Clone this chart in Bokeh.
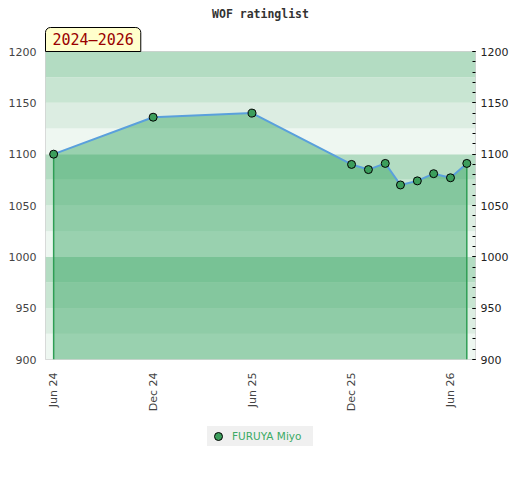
from datetime import datetime
from math import pi
from bokeh.plotting import figure
from bokeh.layouts import column
from bokeh.models import (BoxAnnotation, LinearAxis, FixedTicker, Range1d, Title,
                          Legend, LegendItem)
from bokeh.embed import file_html
from bokeh.resources import INLINE

# ---- data ----
dates = [datetime(2024, 6, 1), datetime(2024, 12, 1), datetime(2025, 6, 1),
         datetime(2025, 12, 1), datetime(2026, 1, 1), datetime(2026, 2, 1),
         datetime(2026, 3, 1), datetime(2026, 4, 1), datetime(2026, 5, 1),
         datetime(2026, 6, 1), datetime(2026, 7, 1)]
ratings = [1100, 1136, 1140, 1090, 1085, 1091, 1070, 1074, 1081, 1077, 1091]
player = "FURUYA Miyo"
title = "WOF ratinglist"
period = "2024\u20132026"
tick_dates = [datetime(2024, 6, 1), datetime(2024, 12, 1), datetime(2025, 6, 1),
              datetime(2025, 12, 1), datetime(2026, 6, 1)]
tick_labels = ["Jun 24", "Dec 24", "Jun 25", "Dec 25", "Jun 26"]
y_min, y_max = 900, 1200
y_major = list(range(900, 1201, 50))
y_minor = list(range(900, 1201, 10))
band_edges = list(range(900, 1201, 25))
band_colors = ["#eef7f1", "#dcede2", "#c8e5d2", "#b3dcc2"]

x_start = datetime(2024, 5, 17)
x_end = datetime(2026, 7, 17)

xs = [d.timestamp() * 1000 for d in dates]
tick_x = [d.timestamp() * 1000 for d in tick_dates]

p = figure(width=512, height=415, output_backend="svg", toolbar_location=None,
           x_range=Range1d(x_start.timestamp() * 1000, x_end.timestamp() * 1000),
           y_range=Range1d(y_min, y_max),
           min_border_left=45, min_border_right=37, min_border_top=50, min_border_bottom=56)
p.background_fill_color = "white"
p.border_fill_color = "white"
p.outline_line_color = "#d0d0d0"
p.outline_line_width = 1
p.grid.visible = False

p.title.text = title
p.title.align = "center"
p.title.text_font = "DejaVu Sans Mono"
p.title.text_font_style = "bold"
p.title.text_font_size = "11.5px"
p.title.text_color = "#333333"
p.title.standoff = 9

# period tag just above the frame
tag = Title(text=period, align="left", text_font="DejaVu Sans Mono", text_font_size="15px",
            text_font_style="normal", text_color="#990000",
            background_fill_color="#ffffcc", border_line_color="black",
            border_line_width=1, padding=(7, 3), border_radius=(5, 5, 0, 0), standoff=0)
p.add_layout(tag, "above")

# bands
for i in range(len(band_edges) - 1):
    p.add_layout(BoxAnnotation(bottom=band_edges[i], top=band_edges[i + 1],
                               fill_color=band_colors[i % 4], fill_alpha=1.0,
                               line_alpha=0, level="underlay"))

# area
p.varea(x=xs, y1=[y_min] * len(xs), y2=ratings, fill_color="#2da15a", fill_alpha=0.44)
p.segment(x0=[xs[0], xs[-1]], y0=[y_min, y_min], x1=[xs[0], xs[-1]],
          y1=[ratings[0], ratings[-1]], line_color="#2f9e55", line_width=1.5)
p.line(xs, ratings, line_color="#5aa0dc", line_width=2)
p.scatter(xs, ratings, size=8, fill_color="#3c9e5c", line_color="black", line_width=1)

# axes
xa = p.xaxis[0]
xa.ticker = FixedTicker(ticks=tick_x)
xa.major_label_overrides = {t: l for t, l in zip(tick_x, tick_labels)}
xa.major_label_orientation = pi / 2
xa.major_tick_out = 0
xa.major_tick_in = 0
xa.minor_tick_out = 0
xa.axis_line_color = None
xa.major_label_standoff = 13
xa.major_label_text_font = "DejaVu Sans"
xa.major_label_text_font_size = "11px"
xa.major_label_text_color = "#444444"

ya = p.yaxis[0]
ya.ticker = FixedTicker(ticks=y_major)
ya.major_tick_out = 0
ya.major_tick_in = 0
ya.minor_tick_out = 0
ya.axis_line_color = None
ya.major_label_standoff = 9
ya.major_label_text_font = "DejaVu Sans"
ya.major_label_text_font_size = "11px"
ya.major_label_text_color = "#444444"

ra = LinearAxis(ticker=FixedTicker(ticks=y_major, minor_ticks=y_minor))
ra.major_tick_out = 0
ra.major_tick_in = 3
ra.minor_tick_out = 0
ra.minor_tick_in = 3
ra.major_tick_line_color = "black"
ra.minor_tick_line_color = "black"
ra.axis_line_color = None
ra.major_label_standoff = 5
ra.major_label_text_font = "DejaVu Sans"
ra.major_label_text_font_size = "11px"
ra.major_label_text_color = "#222222"
p.add_layout(ra, "right")

# legend strip (key marker uses the first data point, which lies outside this strip's range)
p2 = figure(width=512, height=42, output_backend="svg", toolbar_location=None,
            x_axis_location=None, y_axis_location=None,
            x_range=Range1d(0, 1), y_range=Range1d(0, 1),
            min_border_left=45, min_border_right=37, min_border_top=0, min_border_bottom=0)
p2.outline_line_color = None
p2.grid.visible = False
p2.background_fill_color = "white"
p2.border_fill_color = "white"
key = p2.scatter(x=xs[:1], y=ratings[:1], size=7, fill_color="#3c9e5c",
                 line_color="black", line_width=1)
legend = Legend(items=[LegendItem(label=player, renderers=[key])], location="center",
                orientation="horizontal", background_fill_color="#f0f0f0",
                background_fill_alpha=1, border_line_color=None,
                label_text_color="#3aaa64", label_text_font="DejaVu Sans",
                label_text_font_size="10.5px", padding=0, margin=0,
                glyph_width=22, glyph_height=20, label_height=20, label_standoff=3,
                label_width=81)
p2.add_layout(legend)

page = column(p, p2, spacing=0)
open("out.html", "w").write(file_html(page, INLINE))
